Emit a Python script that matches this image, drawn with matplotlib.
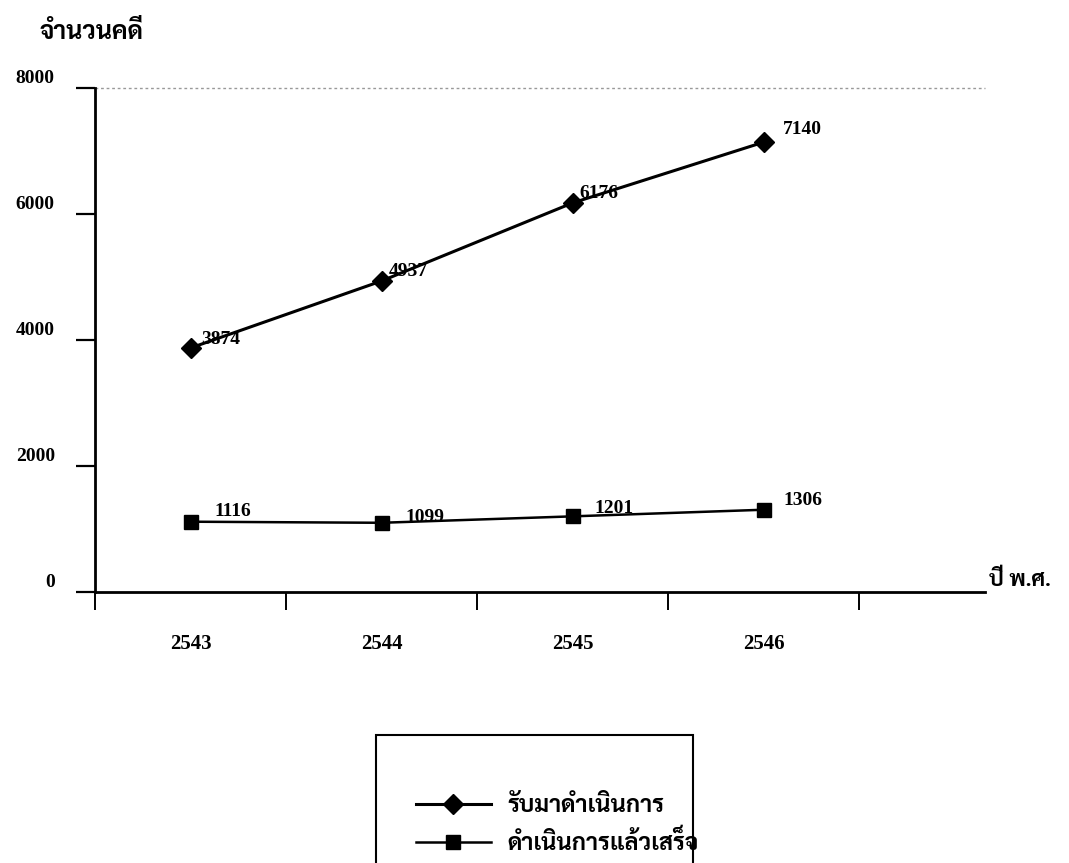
import matplotlib
matplotlib.use("Agg")
import matplotlib.pyplot as plt
from matplotlib.lines import Line2D
from matplotlib.patches import Rectangle
from matplotlib.transforms import ScaledTranslation

# serif digits, Thai glyphs picked up from the next family in the list
plt.rcParams['font.family'] = ['Liberation Serif', 'Sarabun', 'Noto Serif Thai', 'Noto Sans Thai', 'DejaVu Sans']
plt.rcParams['font.weight'] = 'bold'

years = ['2543', '2544', '2545', '2546']
received = [3874, 4937, 6176, 7140]
completed = [1116, 1099, 1201, 1306]
series_names = ['รับมาดำเนินการ', 'ดำเนินการแล้วเสร็จ']
y_ticks = [0, 2000, 4000, 6000, 8000]

# label nudges in points (dx, dy)
received_offsets = [(8, 6), (5, 7), (5, 7), (14, 9)]
completed_offsets = [(17, 7), (17, 4), (16, 6), (14, 7)]

fig = plt.figure(figsize=(10.69, 8.63), dpi=100)
ax = fig.add_axes([0.0889, 0.314, 0.8326, 0.584])

xpos = [i + 0.5 for i in range(len(years))]
ax.plot(xpos, received, color='black', lw=2.2, marker='D', markersize=10)
ax.plot(xpos, completed, color='black', lw=1.8, marker='s', markersize=10)

for x, v, off in zip(xpos, received, received_offsets):
    ax.annotate(str(v), (x, v), xytext=off, textcoords='offset points',
                fontsize=14, fontweight='bold', va='center', ha='left')
for x, v, off in zip(xpos, completed, completed_offsets):
    ax.annotate(str(v), (x, v), xytext=off, textcoords='offset points',
                fontsize=14, fontweight='bold', va='center', ha='left')

ax.set_xlim(0, 4.66)
ax.set_ylim(0, 8000)
ax.set_yticks(y_ticks)
ax.set_yticklabels([str(t) for t in y_ticks], fontsize=14, fontweight='bold')
ax.set_xticks(range(5))
ax.set_xticklabels([])
ax.set_xticks(xpos, minor=True)
ax.set_xticklabels(years, minor=True, fontsize=15, fontweight='bold')

ax.tick_params(axis='y', direction='out', length=14, width=1.6, pad=15)
ax.tick_params(axis='x', which='major', direction='out', length=13, width=1.4)
ax.tick_params(axis='x', which='minor', length=0, pad=30)

# y labels sit a little above their ticks
lift = ScaledTranslation(0, 8 / 72, fig.dpi_scale_trans)
for lab in ax.get_yticklabels():
    lab.set_transform(lab.get_transform() + lift)

for side in ['top', 'right']:
    ax.spines[side].set_visible(False)
for side in ['left', 'bottom']:
    ax.spines[side].set_linewidth(2)
ax.axhline(8000, color='#999999', lw=1, ls=(0, (2, 2)), clip_on=False)

fig.text(0.037, 0.963, 'จำนวนคดี', fontsize=18, fontweight='bold', va='center', ha='left')
fig.text(0.925, 0.327, 'ปี พ.ศ.', fontsize=16, fontweight='bold', va='center', ha='left')

# legend box runs off the bottom edge
fig.patches.append(Rectangle((0.3517, -0.02), 0.2965, 0.1683, transform=fig.transFigure,
                             fill=False, edgecolor='black', lw=1.5))
handles = [Line2D([], [], color='black', lw=2.2, marker='D', markersize=10),
           Line2D([], [], color='black', lw=1.8, marker='s', markersize=10)]
fig.legend(handles, series_names, loc='upper left', bbox_to_anchor=(0.38, 0.09),
           frameon=False, fontsize=17, handlelength=3.2, labelspacing=0.55,
           handletextpad=0.7, borderaxespad=0)

fig.savefig('out.png', dpi=100)
